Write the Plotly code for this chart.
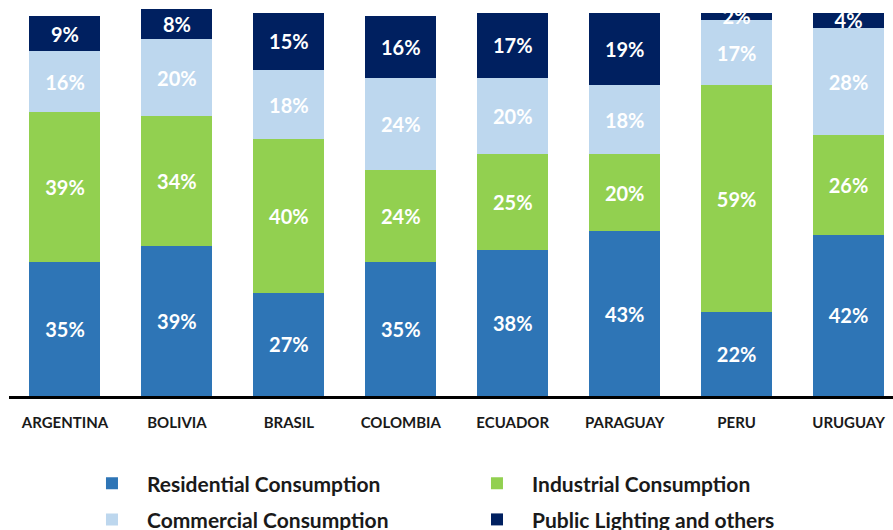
import plotly.graph_objects as go

countries = ["ARGENTINA", "BOLIVIA", "BRASIL", "COLOMBIA", "ECUADOR", "PARAGUAY", "PERU", "URUGUAY"]
residential = [35, 39, 27, 35, 38, 43, 22, 42]
industrial = [39, 34, 40, 24, 25, 20, 59, 26]
commercial = [16, 20, 18, 24, 20, 18, 17, 28]
public_lighting = [9, 8, 15, 16, 17, 19, 2, 4]

series = [
    ("Residential Consumption", residential, "#2E75B6", "legend"),
    ("Industrial Consumption", industrial, "#92D050", "legend"),
    ("Commercial Consumption", commercial, "#BDD7EE", "legend2"),
    ("Public Lighting and others", public_lighting, "#002060", "legend2"),
]

FONT = "Lato"

fig = go.Figure()
for name, vals, color, leg in series:
    fig.add_trace(go.Bar(
        x=countries,
        y=vals,
        name=name,
        marker=dict(color=color, line=dict(width=0)),
        text=[f"{v}%" for v in vals],
        textposition="inside",
        insidetextanchor="middle",
        textangle=0,
        textfont=dict(family=FONT, size=20, color="white", weight="bold"),
        legend=leg,
        hoverinfo="skip",
    ))

legend_common = dict(
    orientation="h",
    xref="container",
    yref="container",
    xanchor="left",
    yanchor="top",
    traceorder="normal",
    entrywidth=310,
    entrywidthmode="pixels",
    itemwidth=60,
    font=dict(family=FONT, size=21, color="#1a1a1a", weight="bold"),
    bgcolor="rgba(0,0,0,0)",
)

fig.update_layout(
    width=893,
    height=530,
    margin=dict(l=9, r=0, t=0, b=134),
    barmode="stack",
    bargap=0.366,
    plot_bgcolor="white",
    paper_bgcolor="white",
    showlegend=True,
    uniformtext=dict(minsize=20, mode="show"),
    legend=dict(x=0.0862, y=0.126, **legend_common),
    legend2=dict(x=0.0862, y=0.058, **legend_common),
    xaxis=dict(
        range=[-0.5, 7.397],
        showline=True,
        linecolor="black",
        linewidth=3,
        ticks="outside",
        ticklen=11,
        tickcolor="rgba(0,0,0,0)",
        tickfont=dict(family=FONT, size=15, color="#1a1a1a", weight="bold"),
        showgrid=False,
        zeroline=False,
    ),
    yaxis=dict(
        range=[0, 103.3],
        visible=False,
        showgrid=False,
        zeroline=False,
    ),
)

fig.write_html("out.html")
